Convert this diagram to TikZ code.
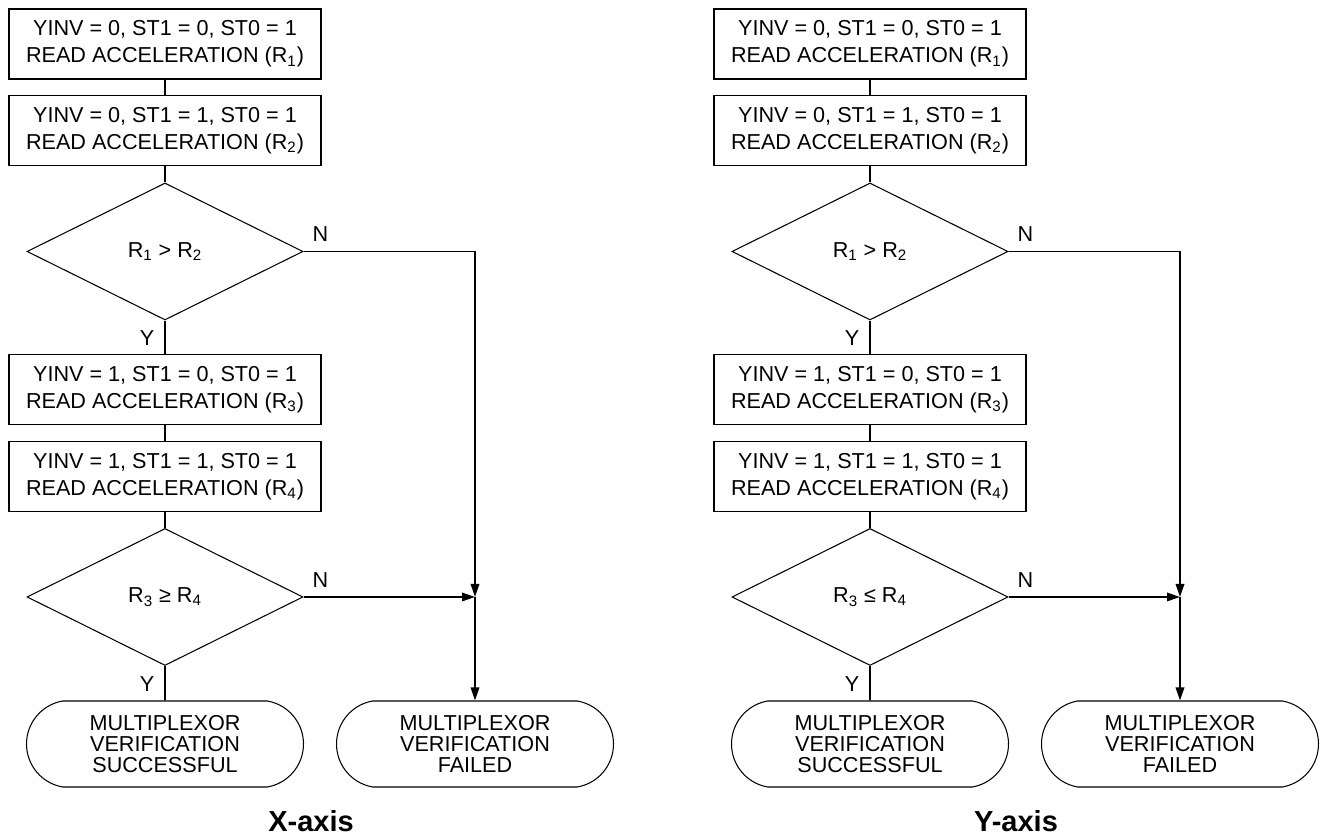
\documentclass[tikz,border=0pt]{standalone}
\usepackage{fontspec}
\setmainfont{Liberation Sans}
\usetikzlibrary{shapes.geometric,shapes.misc,arrows.meta}

\begin{document}
\begin{tikzpicture}[
		proc/.style={draw, line width=1pt, minimum width=6.24cm, minimum height=1.4cm, inner sep=0pt, align=center, font=\fontsize{12.3}{15.5}\selectfont},
		decision/.style={draw, diamond, line width=0.6pt, minimum width=5.52cm, minimum height=2.74cm, inner sep=0pt, font=\fontsize{12.3}{14}\selectfont},
		term/.style={draw, rounded rectangle, rounded rectangle arc length=160, line width=0.6pt, minimum width=5.54cm, minimum height=1.72cm, inner sep=0pt, align=center, font=\fontsize{12.3}{12.1}\selectfont},
		lbl/.style={inner sep=0pt, font=\fontsize{12.3}{14}\selectfont},
		link/.style={line width=1pt},
		arr/.style={line width=1pt, -{Triangle[length=0.26cm, width=0.17cm]}},
		caption/.style={anchor=base, inner sep=0pt, font=\fontsize{16.5}{18}\selectfont\bfseries}
	]
		\useasboundingbox (0,0) rectangle (26.4,16.78);
		
		% X-axis: steps
		\node[proc] (xr1) at (3.3, 15.90) {YINV = 0, ST1 = 0, ST0 = 1\\READ ACCELERATION (R\textsubscript{1})};
		\node[proc] (xr2) at (3.3, 14.17) {YINV = 0, ST1 = 1, ST0 = 1\\READ ACCELERATION (R\textsubscript{2})};
		\node[decision] (xd1) at (3.3, 11.75) {R\textsubscript{1} > R\textsubscript{2}};
		\node[proc] (xr3) at (3.3, 8.99) {YINV = 1, ST1 = 0, ST0 = 1\\READ ACCELERATION (R\textsubscript{3})};
		\node[proc] (xr4) at (3.3, 7.25) {YINV = 1, ST1 = 1, ST0 = 1\\READ ACCELERATION (R\textsubscript{4})};
		\node[decision] (xd2) at (3.3, 4.84) {R\textsubscript{3} ≥ R\textsubscript{4}};
		\node[term] (xok) at (3.3, 1.90) {MULTIPLEXOR\\VERIFICATION\\SUCCESSFUL};
		\node[term] (xfail) at (9.5, 1.90) {MULTIPLEXOR\\VERIFICATION\\FAILED};
		\coordinate (xjoin) at (xd2.east -| xfail.north);
		
		% X-axis: connectors
		\draw[link] (xr1) -- (xr2);
		\draw[link] (xr2) -- (xd1);
		\draw[link] (xd1) -- (xr3);
		\draw[link] (xr3) -- (xr4);
		\draw[link] (xr4) -- (xd2);
		\draw[link] (xd2) -- (xok);
		\draw[arr] (xd1.east) -| (xjoin);
		\draw[arr] (xd2.east) -- (xjoin);
		\draw[arr] (xjoin) -- (xfail.north);
		
		% X-axis: labels
		\node[lbl] (xn1) at ([xshift=0.34cm, yshift=0.34cm]xd1.east) {N};
		\node[lbl] (xy1) at ([xshift=-0.36cm, yshift=-0.36cm]xd1.south) {Y};
		\node[lbl] (xn2) at ([xshift=0.34cm, yshift=0.34cm]xd2.east) {N};
		\node[lbl] (xy2) at ([xshift=-0.36cm, yshift=-0.36cm]xd2.south) {Y};
		\node[caption] (xcap) at (6.22, 0.14) {X-axis};
		
		% Y-axis: steps
		\node[proc] (yr1) at (17.4, 15.90) {YINV = 0, ST1 = 0, ST0 = 1\\READ ACCELERATION (R\textsubscript{1})};
		\node[proc] (yr2) at (17.4, 14.17) {YINV = 0, ST1 = 1, ST0 = 1\\READ ACCELERATION (R\textsubscript{2})};
		\node[decision] (yd1) at (17.4, 11.75) {R\textsubscript{1} > R\textsubscript{2}};
		\node[proc] (yr3) at (17.4, 8.99) {YINV = 1, ST1 = 0, ST0 = 1\\READ ACCELERATION (R\textsubscript{3})};
		\node[proc] (yr4) at (17.4, 7.25) {YINV = 1, ST1 = 1, ST0 = 1\\READ ACCELERATION (R\textsubscript{4})};
		\node[decision] (yd2) at (17.4, 4.84) {R\textsubscript{3} ≤ R\textsubscript{4}};
		\node[term] (yok) at (17.4, 1.90) {MULTIPLEXOR\\VERIFICATION\\SUCCESSFUL};
		\node[term] (yfail) at (23.6, 1.90) {MULTIPLEXOR\\VERIFICATION\\FAILED};
		\coordinate (yjoin) at (yd2.east -| yfail.north);
		
		% Y-axis: connectors
		\draw[link] (yr1) -- (yr2);
		\draw[link] (yr2) -- (yd1);
		\draw[link] (yd1) -- (yr3);
		\draw[link] (yr3) -- (yr4);
		\draw[link] (yr4) -- (yd2);
		\draw[link] (yd2) -- (yok);
		\draw[arr] (yd1.east) -| (yjoin);
		\draw[arr] (yd2.east) -- (yjoin);
		\draw[arr] (yjoin) -- (yfail.north);
		
		% Y-axis: labels
		\node[lbl] (yn1) at ([xshift=0.34cm, yshift=0.34cm]yd1.east) {N};
		\node[lbl] (yy1) at ([xshift=-0.36cm, yshift=-0.36cm]yd1.south) {Y};
		\node[lbl] (yn2) at ([xshift=0.34cm, yshift=0.34cm]yd2.east) {N};
		\node[lbl] (yy2) at ([xshift=-0.36cm, yshift=-0.36cm]yd2.south) {Y};
		\node[caption] (ycap) at (20.32, 0.14) {Y-axis};
		
	\end{tikzpicture}
\end{document}
